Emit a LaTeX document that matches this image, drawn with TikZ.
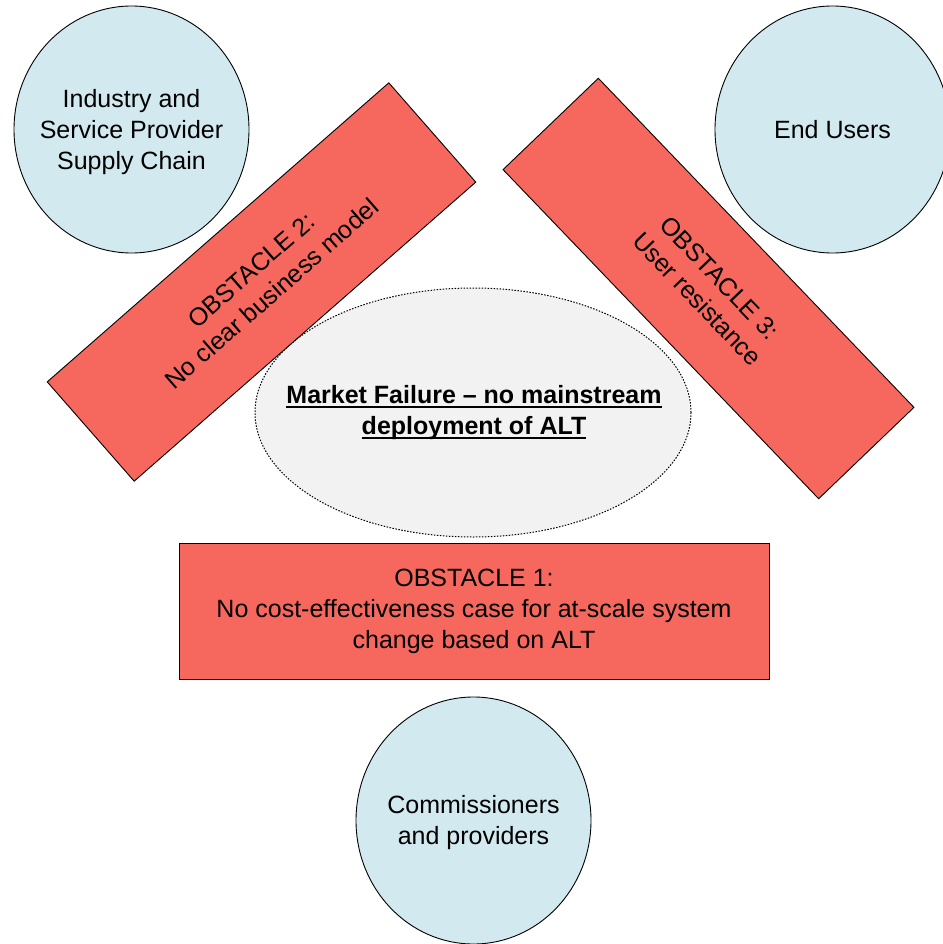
\documentclass[tikz,border=0pt]{standalone}
\usepackage{fontspec}
\setmainfont{Liberation Sans}
\usetikzlibrary{shapes.geometric}
\definecolor{circblue}{HTML}{D2EAEF}
\definecolor{obsred}{HTML}{F6685E}
\definecolor{ellgray}{HTML}{F2F2F2}
\newcommand\myul[1]{\setbox0\hbox{#1}\rlap{\rule[-4.5pt]{\wd0}{2pt}}\box0}
\tikzset{
  actor/.style={ellipse, draw=black, line width=0.9pt, fill=circblue,
    minimum width=235pt, minimum height=247pt, inner sep=0pt},
  lbl/.style={inner sep=0pt, align=center, font=\fontsize{25}{31}\selectfont},
  obstacle/.style={rectangle, draw=black, line width=0.9pt, fill=obsred,
    inner sep=0pt, align=center, font=\fontsize{25}{31}\selectfont},
  failure/.style={ellipse, draw=black, line width=1pt, dash pattern=on 1.5pt off 1.5pt, fill=ellgray,
    minimum width=436pt, minimum height=249pt, inner sep=0pt},
  failtext/.style={lbl, font=\fontsize{25}{31}\selectfont\bfseries}
}
\begin{document}
\begin{tikzpicture}[x=1pt,y=-1pt]
\useasboundingbox (0,0) rectangle (942,944);
\node[actor] (ind) at (131.5,129.5) {};
\node[lbl] (indt) at ([yshift=-2.5pt]ind.center) {Industry and\\Service Provider\\Supply Chain};
\node[actor] (end) at (832.5,129.5) {};
\node[lbl] (endt) at (end.center) {End Users};
\node[actor] (com) at (473.5,820.5) {};
\node[lbl] (comt) at ([yshift=-2pt]com.center) {Commissioners\\and providers};
\node[failure] (mf) at (473,412.5) {};
\node[failtext] (mft) at ([xshift=1pt,yshift=-0.5pt]mf.center) {\myul{Market Failure – no mainstream}\\\myul{deployment of ALT}};
\node[obstacle, minimum width=454pt, minimum height=132pt, rotate=41.2] (ob2) at (261.5,282) {OBSTACLE 2:\\No clear business model};
\node[obstacle, minimum width=456pt, minimum height=132pt, rotate=-46.2] (ob3) at (708.5,288.5) {OBSTACLE 3:\\User resistance};
\node[obstacle, minimum width=590pt, minimum height=136pt] (ob1) at (474,611) {OBSTACLE 1:\\No cost-effectiveness case for at-scale system\\change based on ALT};
\end{tikzpicture}
\end{document}
